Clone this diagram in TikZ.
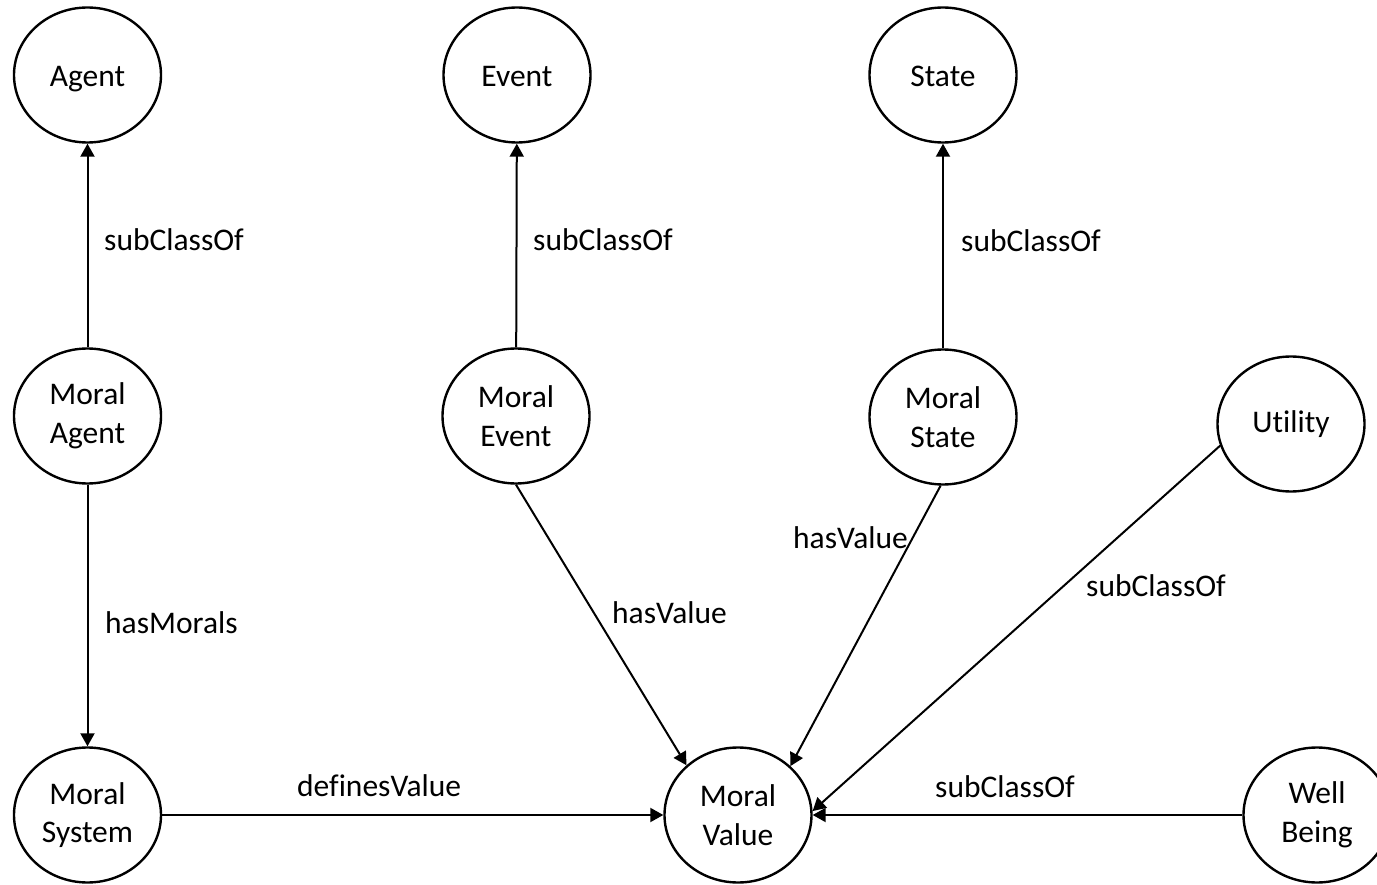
\documentclass[tikz,border=0pt]{standalone}
\usepackage{fontspec}
\setmainfont{Carlito}[Ligatures=NoCommon]
\usetikzlibrary{arrows.meta,shapes.geometric}
\begin{document}
\begin{tikzpicture}[x=1pt,y=-1pt,
  concept/.style={ellipse,draw=black,line width=2.4pt,minimum width=147pt,minimum height=135pt,inner sep=0pt,align=center,font=\fontsize{31.5}{38.5}\selectfont},
  single/.style={concept,text height=30pt,text depth=6pt},
  rel/.style={line width=2pt,-{Triangle[length=13pt,width=14pt]}},
  lbl/.style={anchor=base west,inner sep=0pt,font=\fontsize{31.5}{38.5}\selectfont}]
\useasboundingbox[fill=white] (0,0) rectangle (1377,885);
% nodes
\node[single] (agent) at (87.5,75) {Agent};
\node[single] (event) at (517,75) {Event};
\node[single] (state) at (943,75) {State};
\node[concept] (magent) at (87.5,416) {Moral\\Agent};
\node[concept] (mevent) at (516,416) {Moral\\Event};
\node[concept] (mstate) at (943,417) {Moral\\State};
\node[concept] (utility) at (1291,424) {Utility};
\node[concept] (msystem) at (87.5,815) {Moral\\System};
\node[concept] (mvalue) at (738,815) {Moral\\Value};
\node[concept] (wellbeing) at (1317,815) {Well\\Being};
% connectors
\draw[rel] (magent) -- (agent);
\draw[rel] (mevent) -- (event);
\draw[rel] (mstate) -- (state);
\draw[rel] (magent) -- (msystem);
\draw[rel] (msystem) -- (mvalue);
\draw[rel] (mevent.south) -- (mvalue.136);
\draw[rel] (mstate.-92) -- (mvalue.43);
\draw[rel] (utility.197) -- (mvalue.3);
\draw[rel] (wellbeing) -- (mvalue);
% labels
\node[lbl] (l1) at (104,251) {subClassOf};
\node[lbl] (l2) at (533,251) {subClassOf};
\node[lbl] (l3) at (961,252) {subClassOf};
\node[lbl] (l4) at (105,633) {hasMorals};
\node[lbl] (l5) at (297,796) {definesValue};
\node[lbl] (l6) at (612,623) {hasValue};
\node[lbl] (l7) at (793,548) {hasValue};
\node[lbl] (l8) at (1086,596) {subClassOf};
\node[lbl] (l9) at (935,797) {subClassOf};
\end{tikzpicture}
\end{document}
